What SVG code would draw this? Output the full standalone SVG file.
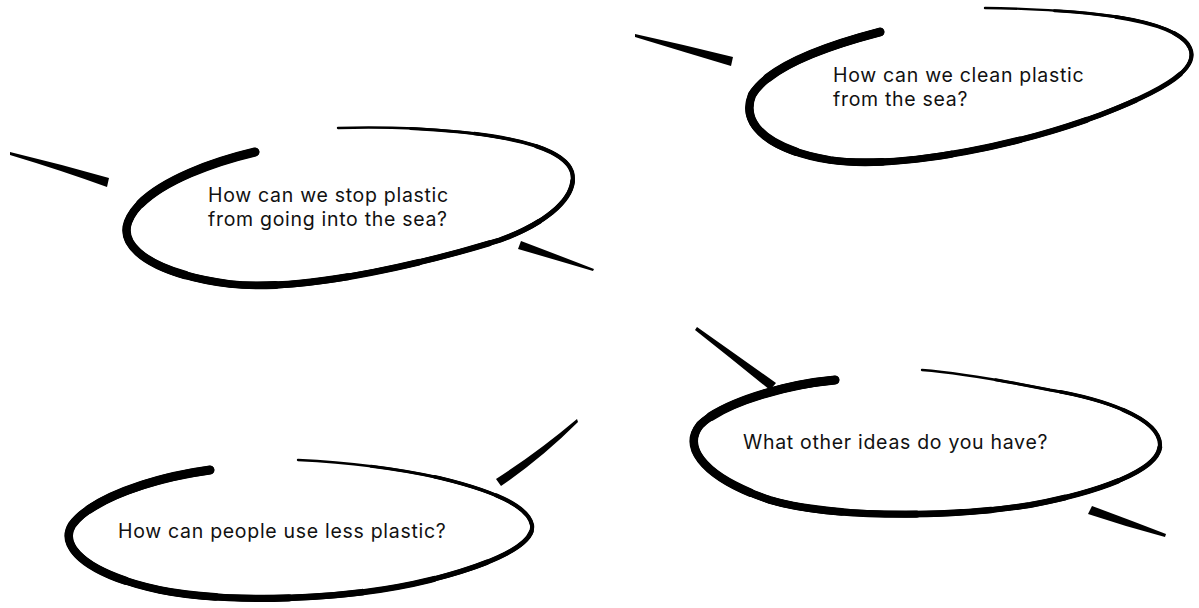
<svg xmlns="http://www.w3.org/2000/svg" xmlns:xlink="http://www.w3.org/1999/xlink" width="1199" height="608" viewBox="0 0 1199 608">
<style>
.bg{fill:#ffffff}
.b{fill:none;stroke:#000;stroke-linecap:round;stroke-linejoin:round}
.a0{stroke-width:2.4}
.a1{stroke-width:3;stroke-dasharray:92 200}
.a2{stroke-width:3.6;stroke-dasharray:85 200}
.a3{stroke-width:4.2;stroke-dasharray:78 200}
.a4{stroke-width:4.8;stroke-dasharray:72 200}
.a5{stroke-width:5.4;stroke-dasharray:66 200}
.a6{stroke-width:6;stroke-dasharray:60 200}
.a7{stroke-width:6.6;stroke-dasharray:52 200}
.a8{stroke-width:7.2;stroke-dasharray:44 200}
.a9{stroke-width:7.8;stroke-dasharray:36 200}
.a10{stroke-width:8.4;stroke-dasharray:26 200}
.a11{stroke-width:9;stroke-dasharray:14 200}
.mark{fill:#000}
.t{font-family:"Inter Variable","Inter","Open Sans",sans-serif;font-size:19.5px;letter-spacing:0.7px;fill:#111}
</style>
<defs>
<path id="e1" pathLength="100" d="M255,152 C200,165 140,190 128,222 C118,250 160,275 230,284 C300,292 420,265 500,240 C550,222 578,195 572,172 C565,150 520,138 460,132 C410,127 370,127 338,128"/>
<path id="e2" pathLength="100" d="M880,32 C830,45 770,65 752,95 C740,125 770,150 830,160 C900,170 1020,145 1100,115 C1160,92 1200,70 1190,48 C1180,25 1120,15 1060,11 C1030,9 1005,8 985,8"/>
<path id="e3" pathLength="100" d="M210,470 C150,478 90,500 72,525 C58,548 90,575 160,590 C230,604 350,600 430,580 C490,565 535,545 532,525 C528,505 490,490 440,478 C390,467 340,462 298,460"/>
<path id="e4" pathLength="100" d="M835,380 C780,385 720,405 700,425 C680,450 710,480 770,500 C830,518 950,518 1030,505 C1100,492 1160,470 1160,445 C1160,420 1110,400 1050,390 C1000,380 960,373 922,370"/>
<g id="s1"><use xlink:href="#e1" class="b a0"/><use xlink:href="#e1" class="b a1"/><use xlink:href="#e1" class="b a2"/><use xlink:href="#e1" class="b a3"/><use xlink:href="#e1" class="b a4"/><use xlink:href="#e1" class="b a5"/><use xlink:href="#e1" class="b a6"/><use xlink:href="#e1" class="b a7"/><use xlink:href="#e1" class="b a8"/><use xlink:href="#e1" class="b a9"/><use xlink:href="#e1" class="b a10"/><use xlink:href="#e1" class="b a11"/></g>
<g id="s2"><use xlink:href="#e2" class="b a0"/><use xlink:href="#e2" class="b a1"/><use xlink:href="#e2" class="b a2"/><use xlink:href="#e2" class="b a3"/><use xlink:href="#e2" class="b a4"/><use xlink:href="#e2" class="b a5"/><use xlink:href="#e2" class="b a6"/><use xlink:href="#e2" class="b a7"/><use xlink:href="#e2" class="b a8"/><use xlink:href="#e2" class="b a9"/><use xlink:href="#e2" class="b a10"/><use xlink:href="#e2" class="b a11"/></g>
<g id="s3"><use xlink:href="#e3" class="b a0"/><use xlink:href="#e3" class="b a1"/><use xlink:href="#e3" class="b a2"/><use xlink:href="#e3" class="b a3"/><use xlink:href="#e3" class="b a4"/><use xlink:href="#e3" class="b a5"/><use xlink:href="#e3" class="b a6"/><use xlink:href="#e3" class="b a7"/><use xlink:href="#e3" class="b a8"/><use xlink:href="#e3" class="b a9"/><use xlink:href="#e3" class="b a10"/><use xlink:href="#e3" class="b a11"/></g>
<g id="s4"><use xlink:href="#e4" class="b a0"/><use xlink:href="#e4" class="b a1"/><use xlink:href="#e4" class="b a2"/><use xlink:href="#e4" class="b a3"/><use xlink:href="#e4" class="b a4"/><use xlink:href="#e4" class="b a5"/><use xlink:href="#e4" class="b a6"/><use xlink:href="#e4" class="b a7"/><use xlink:href="#e4" class="b a8"/><use xlink:href="#e4" class="b a9"/><use xlink:href="#e4" class="b a10"/><use xlink:href="#e4" class="b a11"/></g>
</defs>
<rect class="bg" x="0" y="0" width="1199" height="608"/>
<g id="connectors">
<path class="mark" d="M10,152 Q60,164 109,178 L107,187 Q60,170 10,155 Z"/>
<path class="mark" d="M635,34 Q685,45 733,57 L731,66 Q684,52 635,37 Z"/>
<path class="mark" d="M521,241 Q558,255 594,269 L593,271 Q556,260 518,249 Z"/>
<path class="mark" d="M496,479 Q538,452 577,419 L578,422 Q542,458 501,486 Z"/>
<path class="mark" d="M697,327 Q738,356 776,383 L770,390 Q733,360 695,330 Z"/>
<path class="mark" d="M1092,506 Q1130,520 1166,534 L1165,537 Q1127,527 1088,514 Z"/>
</g>
<g id="node-stop">
<use xlink:href="#s1"/>
<text class="t" x="208" y="202">How can we stop plastic</text>
<text class="t" x="208" y="226">from going into the sea?</text>
</g>
<g id="node-clean">
<use xlink:href="#s2"/>
<text class="t" x="833" y="82">How can we clean plastic</text>
<text class="t" x="833" y="106">from the sea?</text>
</g>
<g id="node-less">
<use xlink:href="#s3"/>
<text class="t" x="118" y="538">How can people use less plastic?</text>
</g>
<g id="node-ideas">
<use xlink:href="#s4"/>
<text class="t" x="743" y="449">What other ideas do you have?</text>
</g>
</svg>
